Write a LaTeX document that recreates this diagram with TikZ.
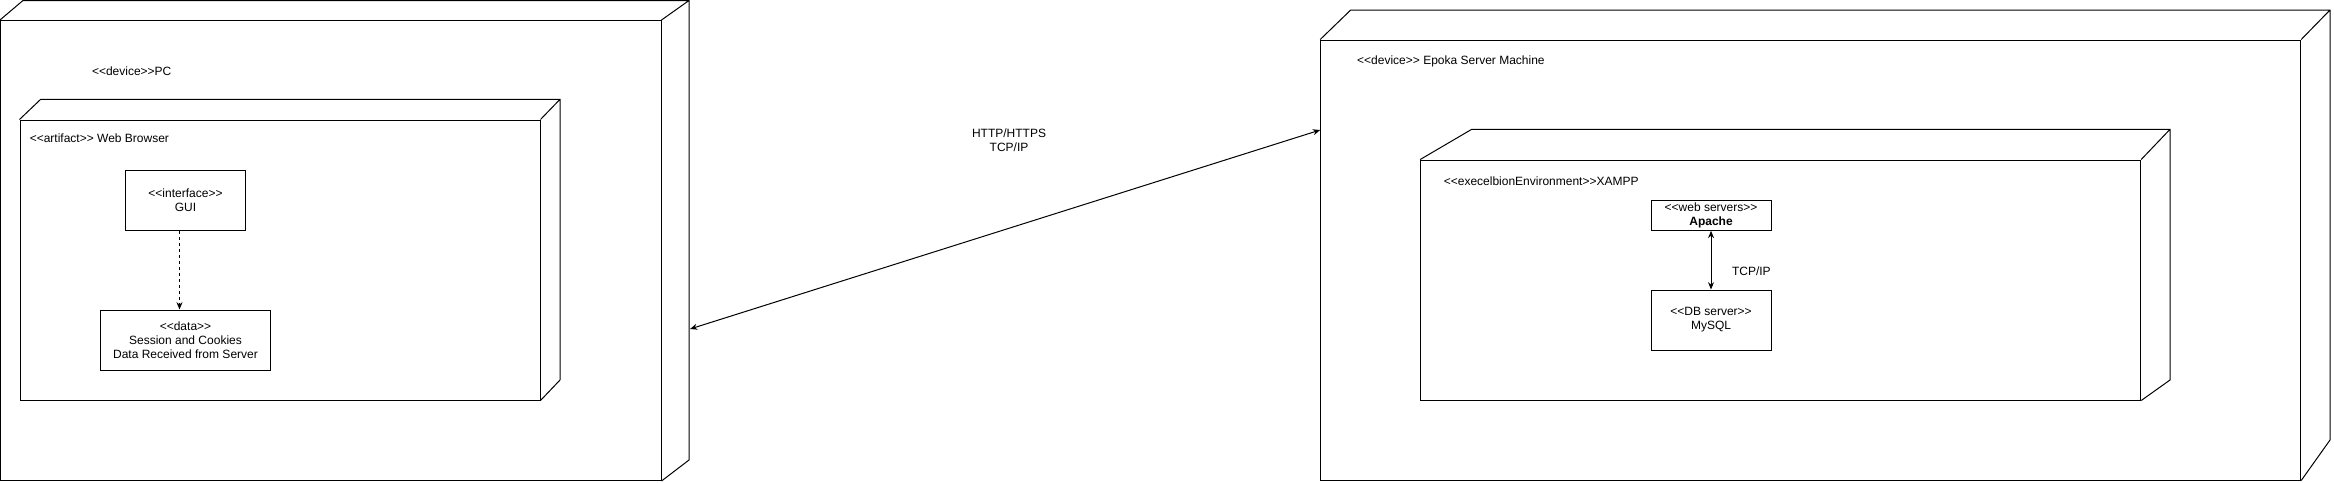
\documentclass[tikz,border=0pt]{standalone}
\usepackage{fontspec}
\newfontfamily\diofont{Liberation Sans}
\usetikzlibrary{arrows.meta, calc}

\begin{document}
\begin{tikzpicture}[x=0.75pt, y=-0.75pt, line width=0.75pt,
        >={Stealth[length=5.5pt,width=4.5pt]},
        every node/.style={font=\diofont\fontsize{9}{10.5}\selectfont, inner sep=0pt},
        box/.style={draw, fill=white, rectangle, align=center}]
        \useasboundingbox (0,0) rectangle (2334,482);

        % PC side
        \node[box, minimum width=495.4pt, minimum height=345pt] (pc) at (330.75,250.5) {};
        \draw (pc.north west) -- (23,0.5) -- (689,0.5) -- (689,460) -- (pc.south east)
              (pc.north east) -- (689,0.5);
        \node[anchor=west] (pclabel) at (91.5,71) {<<device>>PC};

        \node[box, minimum width=390pt, minimum height=210pt] (web) at (280,260) {};
        \draw (web.north west) -- (40.7,99.3) -- (560,99.3) -- (560,380) -- (web.south east)
              (web.north east) -- (560,99.3);
        \node[anchor=west] (weblabel) at (29.3,138.5) {<<artifact>> Web Browser};

        \node[box, minimum width=90.4pt, minimum height=45pt] (gui) at (185.5,200) {<<interface>>\\GUI};
        \node[box, minimum width=127.9pt, minimum height=45pt] (data) at (185.5,340)
            {<<data>>\\Session and Cookies\\Data Received from Server};
        \draw[->, dashed, dash pattern=on 2.25pt off 2.25pt] ([xshift=-4.5pt]gui.south) -- ([xshift=-4.5pt]gui.south |- data.north);

        % server side
        \node[box, minimum width=735pt, minimum height=330pt] (server) at (1810.7,260) {};
        \draw (server.north west) -- (1350.7,10) -- (2330,10) -- (2330,440) -- (server.south east)
              (server.north east) -- (2330,10);
        \node[anchor=west] (serverlabel) at (1356.7,61) {<<device>> Epoka Server Machine};

        \node[box, minimum width=540pt, minimum height=180pt] (xampp) at (1780.7,280) {};
        \draw (xampp.north west) -- (1471.7,129.3) -- (2170,129.3) -- (2170,380) -- (xampp.south east)
              (xampp.north east) -- (2170,129.3);
        \node[anchor=west] (xampplabel) at (1443.3,181) {<<execelbionEnvironment>>XAMPP};

        \node[box, minimum width=90pt, minimum height=22.5pt] (apache) at (1711,215.3) {<<web servers>>\\\textbf{Apache}};
        \node[box, minimum width=90pt, minimum height=45pt] (mysql) at (1711,320) {<<DB server>>\\MySQL};
        \draw[<->] (apache.south) -- (mysql.north);
        \node[anchor=west] (dbproto) at (1731.5,271) {TCP/IP};

        % link between the devices
        \coordinate (pcside) at (690,329);
        \coordinate (serverside) at (server.west |- 0,130);
        \draw[<->] (pcside) -- (serverside);
        \node[align=center] (webproto) at (1009,140.5) {HTTP/HTTPS\\TCP/IP};

\end{tikzpicture}
\end{document}
